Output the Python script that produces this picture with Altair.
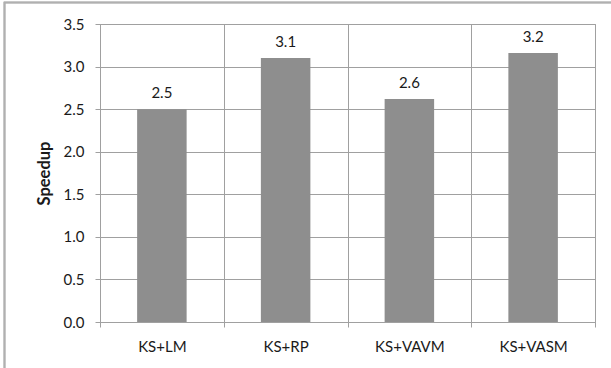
import altair as alt
import pandas as pd

categories = ["KS+LM", "KS+RP", "KS+VAVM", "KS+VASM"]
speedup = [2.5, 3.1, 2.62, 3.16]
y_ticks = [0.0, 0.5, 1.0, 1.5, 2.0, 2.5, 3.0, 3.5]

df = pd.DataFrame({"config": categories, "speedup": speedup})

GRID = "#a0a0a0"
FONT = "Lato"
W, H = 495, 298

base = alt.Chart(df)

x_enc = alt.X(
    "config:N",
    sort=categories,
    scale=alt.Scale(paddingInner=0, paddingOuter=0),
    axis=alt.Axis(
        title=None,
        labelAngle=0,
        labelFont=FONT,
        labelFontSize=15,
        labelColor="#1a1a1a",
        labelPadding=12,
        tickBand="extent",
        tickSize=5,
        tickColor=GRID,
        domainColor=GRID,
        grid=True,
        gridColor=GRID,
    ),
)

y_enc = alt.Y(
    "speedup:Q",
    scale=alt.Scale(domain=[0, 3.5], nice=False),
    axis=alt.Axis(
        title="Speedup",
        titleFont=FONT,
        titleFontSize=16.5,
        titleFontWeight="bold",
        titleColor="#1a1a1a",
        titlePadding=11,
        values=y_ticks,
        format=".1f",
        labelFont=FONT,
        labelFontSize=15,
        labelColor="#1a1a1a",
        labelPadding=11,
        tickSize=5,
        tickColor=GRID,
        domainColor=GRID,
        gridColor=GRID,
    ),
)

bars = base.mark_bar(color="#8e8e8e", width=alt.RelativeBandSize(0.4)).encode(
    x=x_enc, y=y_enc
)

labels = base.mark_text(
    font=FONT, fontSize=15, color="#1a1a1a", baseline="bottom", dy=-8
).encode(
    x=alt.X("config:N", sort=categories),
    y=alt.Y("speedup:Q"),
    text=alt.Text("speedup:Q", format=".1f"),
)

frame = base.mark_rect(
    fill=None, fillOpacity=0, stroke="#b0b0b0", strokeWidth=1.5
).encode(
    x=alt.value(-95.5), x2=alt.value(W + 40), y=alt.value(-21.5), y2=alt.value(H + 80)
)

chart = (
    alt.layer(bars, labels, frame)
    .properties(
        width=W,
        height=H,
        autosize=alt.AutoSizeParams(type="none"),
        padding={"left": 100, "top": 24, "right": 16, "bottom": 46},
        background="white",
    )
    .configure_view(stroke=GRID)
)

chart.save("out.html", embed_options={"renderer": "svg", "actions": False})
